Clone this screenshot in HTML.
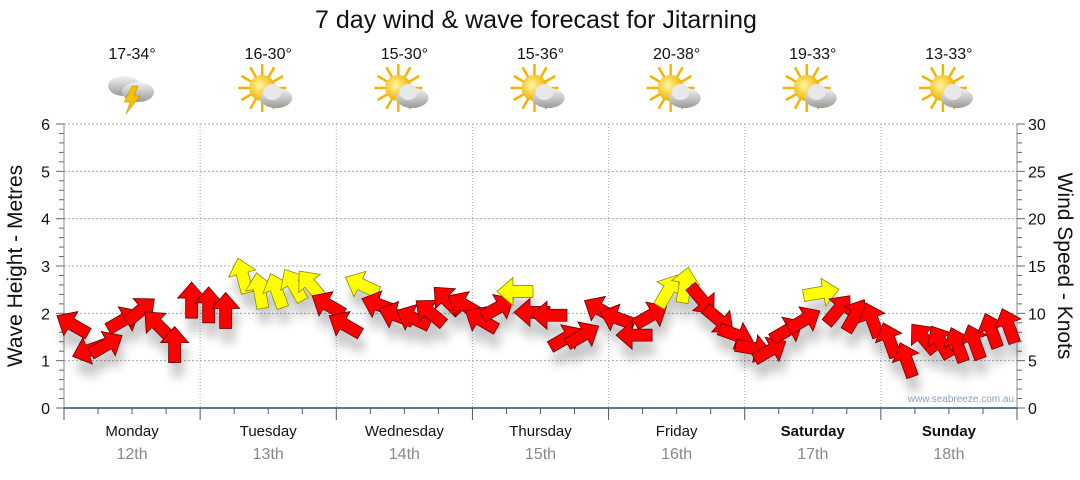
<!DOCTYPE html>
<html><head><meta charset="utf-8">
<style>
html,body{margin:0;padding:0;background:#fff;}
body{width:1080px;height:475px;overflow:hidden;font-family:"Liberation Sans",sans-serif;}
</style></head>
<body>
<svg id="chart" width="1080" height="475" xmlns="http://www.w3.org/2000/svg" font-family="Liberation Sans, sans-serif">
<defs>
<filter id="shadow" x="-50%" y="-50%" width="200%" height="200%">
<feGaussianBlur in="SourceAlpha" stdDeviation="5"/>
<feOffset dx="3" dy="14" result="b"/>
<feComponentTransfer><feFuncA type="linear" slope="0.22"/></feComponentTransfer>
<feMerge><feMergeNode/><feMergeNode in="SourceGraphic"/></feMerge>
</filter>
<radialGradient id="sunG" cx="0.4" cy="0.4" r="0.6"><stop offset="0" stop-color="#fff7a0"/><stop offset="1" stop-color="#f0b000"/></radialGradient>
<linearGradient id="cloudG" x1="0" y1="0" x2="0" y2="1"><stop offset="0" stop-color="#f4f4f4"/><stop offset="1" stop-color="#9a9a9a"/></linearGradient>
</defs>
<text x="536" y="28" font-size="25" text-anchor="middle" fill="#111">7 day wind &amp; wave forecast for Jitarning</text>
<g id="grid"></g>
<g id="axes"></g>
<g id="icons"></g>
<g id="arrows" filter="url(#shadow)"></g>
<text transform="translate(22,266) rotate(-90)" font-size="21" text-anchor="middle" fill="#111">Wave Height - Metres</text>
<text transform="translate(1058,266) rotate(90)" font-size="21" text-anchor="middle" fill="#111">Wind Speed - Knots</text>
<text x="1014" y="402" font-size="10" text-anchor="end" fill="#8aa0c0">www.seabreeze.com.au</text>
</svg>
<script>
const days = ["Monday","Tuesday","Wednesday","Thursday","Friday","Saturday","Sunday"];
const dates = ["12th","13th","14th","15th","16th","17th","18th"];
const temps = ["17-34°","16-30°","15-30°","15-36°","20-38°","19-33°","13-33°"];
const waveTicks = [0,1,2,3,4,5,6];
const windTicks = [0,5,10,15,20,25,30];
const windKnots = [8.8,6.1,6.7,9.3,10.3,8.8,6.7,11.4,
 10.9,10.3,14.0,12.4,12.4,13.0,13.0,10.9,
 8.8,13.0,10.9,9.8,9.5,10.1,11.4,10.9,
 9.3,10.6,12.3,10.1,9.8,7.4,7.7,10.4,
 9.5,7.7,9.8,12.4,13.0,11.4,9.3,7.7,
 6.3,6.1,8.2,9.3,12.2,10.4,9.8,9.3,
 7.2,5.1,7.4,7.0,6.7,7.0,8.2,8.7];
const windDir = [300,250,60,60,50,315,0,0,
 0,0,345,350,340,330,320,300,
 300,295,290,290,295,310,315,300,
 300,60,270,270,270,60,60,300,
 290,270,60,30,10,140,130,110,
 100,60,60,60,80,40,30,340,
 340,340,320,330,340,340,340,340];
const NS="http://www.w3.org/2000/svg";
const X0=64,X1=1017,Y0=408,Y1=124;
const dayW=(X1-X0)/7;
const yWave=v=>Y0-(v/6)*(Y0-Y1);
const yWind=k=>Y0-(k/30)*(Y0-Y1);
const xIdx=i=>X0+(i+0.5)*dayW/8;
function mk(tag,attrs,parent){const e=document.createElementNS(NS,tag);for(const k in attrs)e.setAttribute(k,attrs[k]);parent.appendChild(e);return e;}
const grid=document.getElementById('grid'),axes=document.getElementById('axes'),icons=document.getElementById('icons'),arr=document.getElementById('arrows');
waveTicks.forEach(v=>{if(v>0){const l=mk('line',{x1:X0,x2:X1,y1:yWave(v),y2:yWave(v),stroke:'#aaa','stroke-dasharray':'2,2'},grid);

}
const t=mk('text',{x:50,y:yWave(v)+6,'font-size':16,'text-anchor':'end',fill:'#111'},axes);t.textContent=v;

});
windTicks.forEach(v=>{const t=mk('text',{x:1028,y:yWind(v)+6,'font-size':16,fill:'#111'},axes);t.textContent=v;

});
for(let i=0;i<=30;i++){const y=Y0-i*(Y0-Y1)/30;const len=i%5==0?8:5;
mk('line',{x1:X0-len,x2:X0,y1:y,y2:y,stroke:'#666'},axes);
mk('line',{x1:X1,x2:X1+len,y1:y,y2:y,stroke:'#666'},axes);}
mk('line',{x1:X0,x2:X0,y1:Y1,y2:Y0,stroke:'#888'},axes);
mk('line',{x1:X1,x2:X1,y1:Y1,y2:Y0,stroke:'#888'},axes);
const xa=mk('line',{x1:X0,x2:X1,y1:Y0,y2:Y0,stroke:'#1f4f7f','stroke-width':1.5},axes);


for(let i=0;i<=28;i++){const x=X0+i*dayW/4;mk('line',{x1:x,x2:x,y1:Y0,y2:Y0+(i%4==0?12:6),stroke:'#555'},axes);}
days.forEach((d,i)=>{const cx=X0+(i+0.5)*dayW;
if(i>0){const g=mk('line',{x1:X0+i*dayW,x2:X0+i*dayW,y1:Y1,y2:Y0,stroke:'#aaa','stroke-dasharray':'1,2'},grid);

}
const t=mk('text',{x:cx,y:436,'font-size':15,'text-anchor':'middle',fill:'#111','font-weight':i>=5?'bold':'normal'},axes);t.textContent=d;


const t2=mk('text',{x:cx,y:459,'font-size':16,'text-anchor':'middle',fill:'#888'},axes);t2.textContent=dates[i];


const t3=mk('text',{x:cx,y:59,'font-size':16,'text-anchor':'middle',fill:'#111'},icons);t3.textContent=temps[i];


const g=mk('g',{transform:`translate(${cx},92)`},icons);


if(i==0){
mk('ellipse',{cx:-8,cy:-6,rx:16,ry:10,fill:'url(#cloudG)'},g);
mk('ellipse',{cx:6,cy:0,rx:16,ry:10,fill:'url(#cloudG)'},g);
mk('polygon',{points:'0,-6 -8,10 -2,10 -6,22 8,4 2,4 6,-6',fill:'#f5c000',stroke:'#c08000','stroke-width':0.5},g);
}else{
for(let a=0;a<360;a+=30){const r=a*Math.PI/180;mk('line',{x1:-6+Math.cos(r)*12,y1:-4+Math.sin(r)*12,x2:-6+Math.cos(r)*24,y2:-4+Math.sin(r)*24,stroke:'#f2b400','stroke-width':2.5},g);}
mk('circle',{cx:-6,cy:-4,r:13,fill:'url(#sunG)'},g);
mk('ellipse',{cx:8,cy:6,rx:16,ry:10,fill:'url(#cloudG)'},g);
mk('ellipse',{cx:4,cy:0,rx:9,ry:8,fill:'#e8e8e8'},g);
}});
windKnots.forEach((k,i)=>{
const x=xIdx(i),y=yWind(k),c=k>=12?'#ffff00':'#ff0000',s=k>=12?'#8a8a00':'#660000';
const p=mk('polygon',{points:'-6,18 6,18 6,-2 14,-2 0,-18 -14,-2 -6,-2',fill:c,stroke:s,'stroke-width':0.8,transform:`translate(${x},${y}) rotate(${windDir[i]})`},arr);


});
</script>
</body></html>
